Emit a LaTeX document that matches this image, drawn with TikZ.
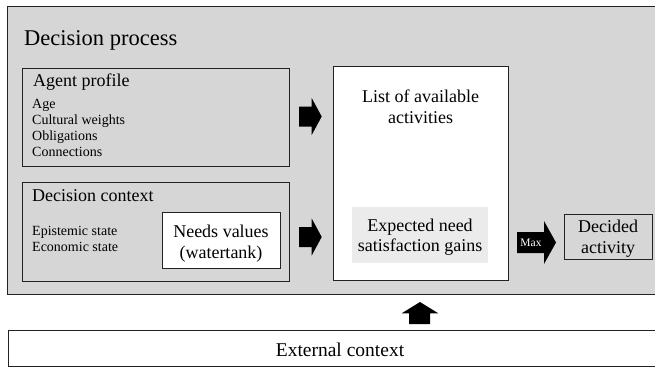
\documentclass[tikz,border=0pt]{standalone}
\usepackage{fontspec}
\setmainfont{Liberation Serif}
\usetikzlibrary{positioning}
\definecolor{procgray}{HTML}{D6D6D6}
\definecolor{gaingray}{HTML}{EBEBEB}
\definecolor{edge}{HTML}{222222}
\tikzset{
  box/.style={draw=edge, line width=1.3bp, anchor=north west, inner sep=0pt},
  big/.style={font=\fontsize{18bp}{20.5bp}\selectfont, inner sep=0pt},
  small/.style={font=\fontsize{14bp}{16bp}\selectfont, inner sep=0pt, align=left},
  blockarrow/.style={fill=black, line join=miter}
}
\begin{document}
\begin{tikzpicture}[x=1bp, y=-1bp]
\useasboundingbox (0,0) rectangle (655,369);
% boxes
\node (process) [box, fill=procgray, minimum width=652bp, minimum height=288.5bp] at (7,5.5) {};
\node (agent) [box, minimum width=267bp, minimum height=97.5bp] at (22,68) {};
\node (context) [box, minimum width=267bp, minimum height=99bp] at (22,182) {};
\node (needs) [box, fill=white, minimum width=118bp, minimum height=56.5bp] at (162,211.5) {};
\node (list) [box, fill=white, minimum width=175bp, minimum height=214bp] at (333,66) {};
\node (gains) [fill=gaingray, anchor=north west, inner sep=0pt, minimum width=136bp, minimum height=56bp] at (352,207) {};
\node (decided) [box, minimum width=87.5bp, minimum height=45bp] at (564,214) {};
\node (external) [box, fill=white, minimum width=652bp, minimum height=36bp] at (8,330) {};
% texts (base = last line)
\node (title) [anchor=base west, inner sep=0pt, font=\fontsize{22.5bp}{26bp}\selectfont] at (24,45) {Decision process};
\node (agenttitle) [big, anchor=base west] at (33,86) {Agent profile};
\node (agentitems) [small, anchor=base west] at (32,156) {Age\\Cultural weights\\Obligations\\Connections};
\node (contexttitle) [big, anchor=base west] at (32,201) {Decision context};
\node (contextitems) [small, anchor=base west] at (32,251.7) {Epistemic state\\Economic state};
\node (needstext) [big, align=center, anchor=base] at (221,258.3) {Needs values\\(watertank)};
\node (listtext) [big, align=center, anchor=base] at (420.5,123.3) {List of available\\activities};
\node (gainstext) [big, align=center, anchor=base] at (420,251.7) {Expected need\\satisfaction gains};
\node (decidedtext) [big, align=center, anchor=base] at (608,253.3) {Decided\\activity};
\node (externaltext) [anchor=base, inner sep=0pt, font=\fontsize{19.5bp}{22bp}\selectfont] at (340,356.7) {External context};
% block arrows
\foreach \c in {116.5,237}
  \fill[blockarrow] (299,\c-10) -- (311.7,\c-10) -- (311.7,\c-18.5) -- (321.7,\c)
    -- (311.7,\c+18.5) -- (311.7,\c+10) -- (299,\c+10) -- cycle;
\fill[blockarrow] (517,232) -- (544,232) -- (544,221) -- (556,242.5)
  -- (544,264) -- (544,253) -- (517,253) -- cycle;
\node (max) [anchor=center, inner sep=0pt, text=white, font=\fontsize{11.5bp}{13bp}\selectfont] at (531,243) {Max};
\fill[blockarrow] (409,324) -- (409,313.3) -- (401.7,313.3) -- (420,302)
  -- (438.3,313.3) -- (430,313.3) -- (430,324) -- cycle;
\end{tikzpicture}
\end{document}
